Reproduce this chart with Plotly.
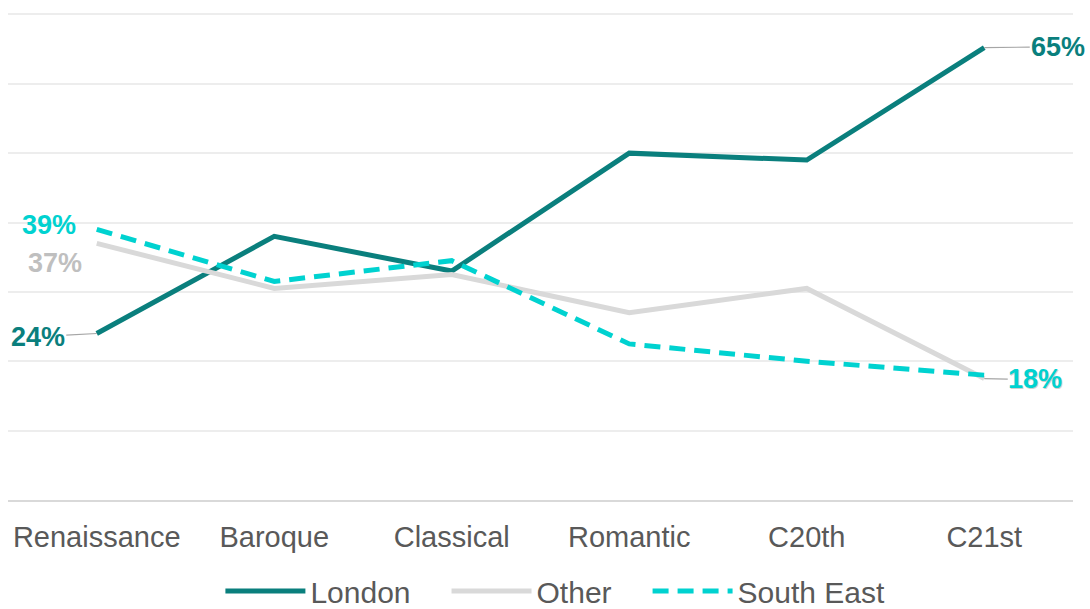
import plotly.graph_objects as go

categories = ["Renaissance", "Baroque", "Classical", "Romantic", "C20th", "C21st"]
london = [24, 38, 33, 50, 49, 65.2]
other = [37, 30.5, 32.5, 27, 30.5, 17.5]
south_east = [39, 31.5, 34.5, 22.5, 20, 18]
series_names = ["London", "Other", "South East"]

C_LON = "#0A7F7D"
C_OTH = "#D9D9D9"
C_SE = "#00D2D0"
FONT = "Liberation Sans, Arial, sans-serif"
PAD = "\u00a0\u00a0\u00a0\u2009"

fig = go.Figure()
fig.add_trace(go.Scatter(x=categories, y=london, mode="lines", name=series_names[0] + PAD,
                         line=dict(color=C_LON, width=5)))
fig.add_trace(go.Scatter(x=categories, y=other, mode="lines", name=series_names[1] + PAD,
                         line=dict(color=C_OTH, width=5)))
fig.add_trace(go.Scatter(x=categories, y=south_east, mode="lines", name=series_names[2],
                         line=dict(color=C_SE, width=5, dash="16px,9px")))

lab_font = lambda c: dict(family=FONT, size=27, color=c)

annotations = [
    dict(x=categories[0], y=london[0], text="<b>24%</b>", showarrow=True, arrowhead=0,
         arrowwidth=1.2, arrowcolor="#A6A6A6", ax=-59, ay=3, font=lab_font(C_LON)),
    dict(x=categories[0], y=south_east[0], text="<b>39%</b>", showarrow=False,
         xshift=-48, yshift=4, font=lab_font(C_SE)),
    dict(x=categories[0], y=other[0], text="<b>37%</b>", showarrow=False,
         xshift=-42, yshift=-20, font=lab_font("#BFBFBF")),
    dict(x=categories[5], y=london[5], text="<b>65%</b>", showarrow=True, arrowhead=0,
         arrowwidth=1.2, arrowcolor="#A6A6A6", ax=74, ay=-1, font=lab_font(C_LON)),
    dict(x=categories[5], y=other[5], text="<b>18%</b>", showarrow=True, arrowhead=0,
         arrowwidth=1.2, arrowcolor="#A6A6A6", ax=52, ay=1, font=lab_font("#CFCFCF")),
    dict(x=categories[5], y=south_east[5], text="<b>18%</b>", showarrow=False,
         xshift=51, yshift=-4, font=lab_font(C_SE)),
]

fig.update_layout(
    width=1090, height=609,
    margin=dict(l=8, r=17, t=13, b=109, autoexpand=False),
    paper_bgcolor="white", plot_bgcolor="white",
    font=dict(family=FONT, color="#595959", size=20),
    showlegend=True,
    legend=dict(orientation="h", x=0.514, xanchor="center", y=-0.187, yanchor="middle",
                font=dict(family=FONT, size=30, color="#595959"),
                itemwidth=80, tracegroupgap=0),
    annotations=annotations,
    xaxis=dict(range=[-0.5, 5.5], showgrid=False, showline=True, linecolor="#D9D9D9",
               linewidth=2, ticks="", ticklabelstandoff=10,
               tickfont=dict(family=FONT, size=29, color="#595959"),
               zeroline=False),
    yaxis=dict(range=[0, 70.2], tickvals=[10, 20, 30, 40, 50, 60, 70], showgrid=True,
               gridcolor="#EDEDED", gridwidth=1.5,
               showticklabels=False, zeroline=False, showline=False),
)

fig.write_html("out.html")
